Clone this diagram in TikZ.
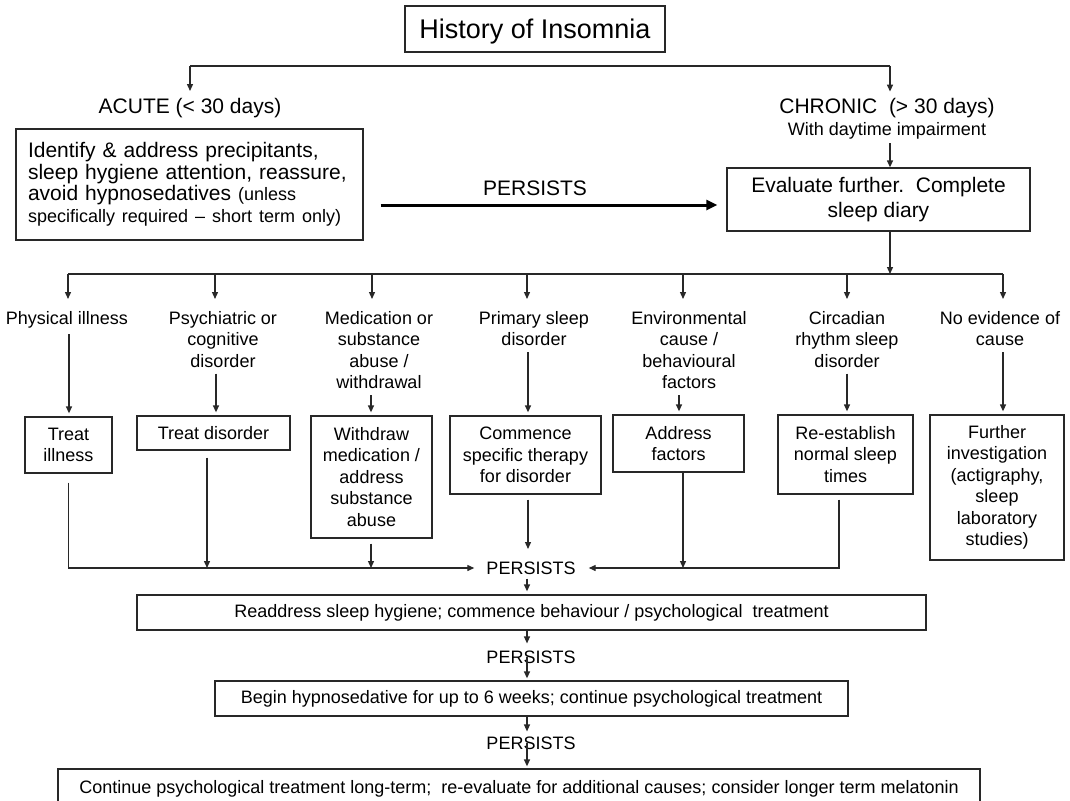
\documentclass[tikz,border=0pt]{standalone}
\usepackage{fontspec}
\setmainfont{Liberation Sans}
\usetikzlibrary{arrows.meta}
\definecolor{linec}{RGB}{40,40,40}
\newcommand{\myfs}[1]{\fontsize{#1}{21.5}\selectfont}
\tikzset{
  box/.style={draw=linec, line width=1.3pt, inner sep=0pt, align=center, font=\myfs{18}},
  lab/.style={inner sep=0pt, align=center, font=\myfs{18}, anchor=north},
  txt/.style={inner sep=0pt, align=center},
  arr/.style={draw=linec, line width=1.3pt, -{Triangle[length=7pt,width=6pt]}},
  ln/.style={draw=linec, line width=1.3pt},
  bigarr/.style={draw=black, line width=3pt, -{Triangle[length=11pt,width=10pt]}},
}
\begin{document}
\begin{tikzpicture}[x=1pt,y=-1pt]
\useasboundingbox[fill=white] (0,0) rectangle (1070,800);
\clip (0,0) rectangle (1070,800);

% title
\node[box, minimum width=260pt, minimum height=46pt, text depth=0pt, font=\myfs{27}] (title) at (535,29) {History of Insomnia};

% acute / chronic
\node[txt, font=\myfs{21}] (acutel) at (190,108) {ACUTE (< 30 days)};
\node[txt, font=\myfs{21}] (chronl) at (887,119) {CHRONIC\ \ (> 30 days)\\{\myfs{18}With daytime impairment}};
\coordinate (jl) at (190,66);
\coordinate (jr) at (890,66);
\draw[ln] (jl) -- (jr);
\draw[arr, shorten >=7pt] (jl) -- (jl |- acutel.north);
\draw[arr, shorten >=7pt] (jr) -- (jr |- chronl.north);

\node[box, minimum width=347pt, minimum height=111pt, align=left, text width=323pt, font=\myfs{21}] (acute) at (189.5,184.5)
 {Identify \& address precipitants,\\sleep hygiene attention, reassure,\\avoid hypnosedatives {\myfs{18}(unless}\\{\myfs{18}specifically required -- short term only)}};

\node[box, minimum width=303pt, minimum height=63pt, font=\myfs{21}] (eval) at (878.5,199.5) {Evaluate further.\ \ Complete\\[3pt]sleep diary};
\draw[arr, shorten <=4pt] (jr |- chronl.south) -- (jr |- eval.north);

\node[txt, font=\myfs{21}] (p0) at (535,188) {PERSISTS};
\coordinate (pl) at (0,205);
\draw[bigarr, shorten <=17pt, shorten >=9pt] (acute.east |- pl) -- (eval.west |- pl);

% distribution
\coordinate (d0) at (890,274);
\draw[arr] (eval.south -| d0) -- (d0);
\coordinate (d1) at (68,274);
\coordinate (d2) at (215,274);
\coordinate (d3) at (372,274);
\coordinate (d4) at (527,274);
\coordinate (d5) at (683,274);
\coordinate (d6) at (847,274);
\coordinate (d7) at (1003,274);
\draw[ln] (d1) -- (d7);

% labels
\node[lab] (l1) at (67,311) {Physical illness};
\node[lab] (l2) at (223,311) {Psychiatric or\\cognitive\\disorder};
\node[lab] (l3) at (379,311) {Medication or\\substance\\abuse /\\withdrawal};
\node[lab] (l4) at (534,311) {Primary sleep\\disorder};
\node[lab] (l5) at (689,311) {Environmental\\cause /\\behavioural\\factors};
\node[lab] (l6) at (847,311) {Circadian\\rhythm sleep\\disorder};
\node[lab] (l7) at (1000,311) {No evidence of\\cause};

\foreach \i in {1,...,7}{
  \draw[arr, shorten >=12pt] (d\i) -- (d\i |- l\i.north);
}

% boxes
\node[box, minimum width=87pt, minimum height=56pt] (b1) at (68.5,445) {Treat\\illness};
\node[box, minimum width=153pt, minimum height=34pt] (b2) at (213.5,433) {Treat disorder};
\node[box, minimum width=121pt, minimum height=122pt] (b3) at (371.5,477) {Withdraw\\medication /\\address\\substance\\abuse};
\node[box, minimum width=151pt, minimum height=78pt] (b4) at (525.5,455) {Commence\\specific therapy\\for disorder};
\node[box, minimum width=131pt, minimum height=57pt] (b5) at (678.5,443.5) {Address\\factors};
\node[box, minimum width=135pt, minimum height=79pt] (b6) at (845.5,454.5) {Re-establish\\normal sleep\\times};
\node[box, minimum width=134pt, minimum height=145pt] (b7) at (997,487.5) {Further\\investigation\\(actigraphy,\\sleep\\laboratory\\studies)};

% label -> box arrows
\coordinate (a1) at (69,0);
\coordinate (a2) at (216,0);
\coordinate (a3) at (371,0);
\coordinate (a4) at (528,0);
\coordinate (a5) at (679,0);
\coordinate (a6) at (847,0);
\coordinate (a7) at (1003,0);
\foreach \i in {1,...,7}{
  \draw[arr, shorten <=6pt, shorten >=3pt] (a\i |- l\i.south) -- (a\i |- b\i.north);
}

% merge to PERSISTS
\node[txt, font=\myfs{18}] (pm) at (531,568) {PERSISTS};
\coordinate (h2) at (207,568);
\coordinate (h3) at (371,568);
\coordinate (h4) at (528,549);
\coordinate (h5) at (683,568);
\coordinate (h6) at (839,568);
\draw[arr, shorten <=9pt, shorten >=12pt] (b1.south) |- (pm.west);
\draw[arr, shorten <=7pt] (b2.south -| h2) -- (h2);
\draw[arr, shorten <=5pt] (b3.south -| h3) -- (h3);
\draw[arr, shorten <=5pt] (b4.south -| h4) -- (h4);
\draw[arr] (b5.south -| h5) -- (h5);
\draw[arr, shorten <=5pt, shorten >=13pt] (b6.south -| h6) |- (pm.east);

% lower chain
\coordinate (cx) at (527,0);
\node[box, minimum width=789pt, minimum height=35pt, font=\myfs{18}] (r1) at (531.5,612.5) {Readdress sleep hygiene; commence behaviour / psychological\ \ treatment};
\draw[arr, shorten <=4pt, shorten >=3pt] (cx |- pm.south) -- (cx |- r1.north);

\node[txt, font=\myfs{18}] (p2) at (531,657) {PERSISTS};
\draw[arr, shorten >=7pt] (cx |- r1.south) -- (cx |- p2.north);

\node[box, minimum width=633pt, minimum height=35pt, font=\myfs{18}] (r2) at (531.5,698.5) {Begin hypnosedative for up to 6 weeks; continue psychological treatment};
\draw[arr, shorten >=2pt] (cx |- p2.center) -- (cx |- r2.north);

\node[txt, font=\myfs{18}] (p3) at (531,743) {PERSISTS};
\draw[arr, shorten >=5pt] (cx |- r2.south) -- (cx |- p3.north);

\node[box, minimum width=922pt, minimum height=40pt, font=\myfs{18}] (r3) at (519,789) {Continue psychological treatment long-term;\ \ re-evaluate for additional causes; consider longer term melatonin};
\draw[arr, shorten >=2pt] (cx |- p3.center) -- (cx |- r3.north);
\end{tikzpicture}
\end{document}
